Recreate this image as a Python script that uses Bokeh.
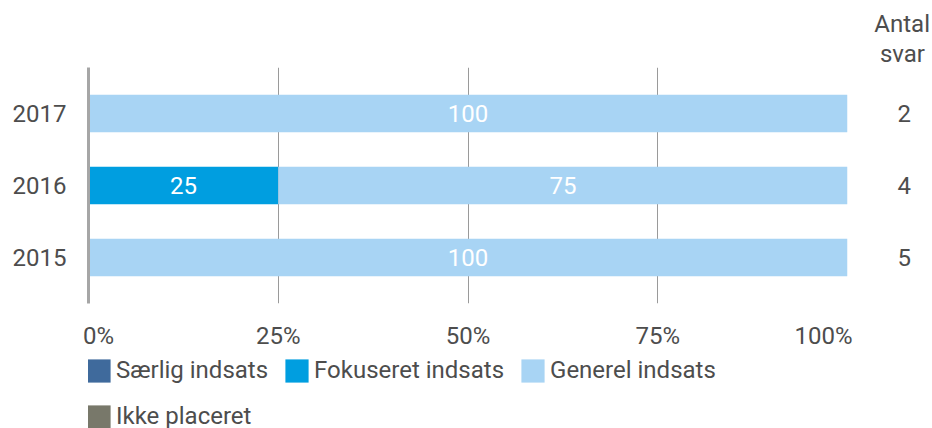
from bokeh.plotting import figure
from bokeh.layouts import column
from bokeh.models import (Range1d, FixedTicker, LinearAxis, Title, Legend,
                          LegendItem, ColumnDataSource)
from bokeh.embed import file_html
from bokeh.resources import INLINE
from bokeh.core.properties import value

# ---- data ----
years = ["2015", "2016", "2017"]
saerlig = [0, 0, 0]
fokuseret = [0, 25, 0]
generel = [100, 75, 100]
ikke_placeret = [0, 0, 0]
antal_svar = [5, 4, 2]
series_names = ["Særlig indsats", "Fokuseret indsats", "Generel indsats", "Ikke placeret"]
x_ticks = [0, 25, 50, 75, 100]
x_tick_labels = ["0%", "25%", "50%", "75%", "100%"]
right_title = ["Antal", "svar"]

# ---- style ----
colors = ["#3F6A9C", "#009EE0", "#A8D4F4", "#78786A"]
FONT = "Roboto"
TXT = "#4D4D4D"
FS = "24px"
# edge tick labels are nudged inward (px), like the original renderer does
label_nudge_px = [10, 0, 0, 0, -24]

series = [saerlig, fokuseret, generel, ikke_placeret]
pos = list(range(len(years)))
keys = ["s0", "s1", "s2", "s3"]
src = ColumnDataSource(dict(pos=pos, **{k: v for k, v in zip(keys, series)}))

W = 932
LEFT, RIGHT = 88, 85
pad = 0.64
p = figure(width=W, height=352, x_range=Range1d(0, 100),
           y_range=Range1d(-pad, len(years) - 1 + pad),
           output_backend="svg", toolbar_location=None, title=None,
           min_border_left=LEFT, min_border_right=RIGHT,
           min_border_top=67, min_border_bottom=47)
p.outline_line_color = None

renderers = p.hbar_stack(keys, y="pos", height=0.52, fill_color=colors,
                         line_color=None, source=src)

# value labels inside bars
lx, ly, lt = [], [], []
for i in range(len(years)):
    cum = 0
    for vals in series:
        v = vals[i]
        if v > 0:
            lx.append(cum + v / 2)
            ly.append(pos[i])
            lt.append(str(v))
        cum += v
p.text(x=lx, y=ly, text=lt, text_color="white", text_font=value(FONT),
       text_font_size=FS, text_align="center", text_baseline="middle")

# grid
p.ygrid.visible = False
p.xgrid.ticker = FixedTicker(ticks=x_ticks)
p.xgrid.grid_line_color = "#9A9A9A"
p.xgrid.grid_line_width = 1

# x axis (labels placed at ticks, edge labels nudged inward)
px_per_unit = (W - LEFT - RIGHT) / 100.0
label_pos = [round(t + n / px_per_unit, 3) for t, n in zip(x_ticks, label_nudge_px)]
p.xaxis.ticker = FixedTicker(ticks=label_pos)
p.xaxis.major_label_overrides = {lp: l for lp, l in zip(label_pos, x_tick_labels)}
p.xaxis.axis_line_color = None
p.xaxis.major_tick_line_color = None
p.xaxis.minor_tick_line_color = None
p.xaxis.major_label_standoff = 12
p.xaxis.major_label_text_font = FONT
p.xaxis.major_label_text_font_size = FS
p.xaxis.major_label_text_color = TXT

# left y axis
p.yaxis.ticker = FixedTicker(ticks=pos)
p.yaxis.major_label_overrides = {i: y for i, y in zip(pos, years)}
p.yaxis.axis_line_color = "#A6A6A6"
p.yaxis.axis_line_width = 3
p.yaxis.major_tick_line_color = None
p.yaxis.minor_tick_line_color = None
p.yaxis.major_label_standoff = 16
p.yaxis.major_label_text_font = FONT
p.yaxis.major_label_text_font_size = FS
p.yaxis.major_label_text_color = TXT

# right axis: Antal svar
rax = LinearAxis(ticker=FixedTicker(ticks=pos),
                 major_label_overrides={i: str(n) for i, n in zip(pos, antal_svar)})
rax.axis_line_color = None
rax.major_tick_line_color = None
rax.minor_tick_line_color = None
rax.major_label_standoff = 44
rax.major_label_text_font = FONT
rax.major_label_text_font_size = FS
rax.major_label_text_color = TXT
p.add_layout(rax, "right")

# header over the right column (closest to frame added first)
for txt, off in zip(reversed(right_title), [-77.5, -82.5]):
    p.add_layout(Title(text=txt, align="right", offset=off, standoff=0,
                       text_font=FONT, text_font_size=FS, text_color=TXT,
                       text_font_style="normal"), "above")

# ---- legend figure ----
pl = figure(width=W, height=428 - 352, x_range=Range1d(0, 1), y_range=Range1d(0, 1),
            output_backend="svg", toolbar_location=None, title=None,
            x_axis_type=None, y_axis_type=None,
            min_border_left=0, min_border_right=0, min_border_top=0, min_border_bottom=0)
pl.outline_line_color = None
pl.xgrid.visible = False
pl.ygrid.visible = False
# zero-width swatch renderers (one per series) used only for the legend
leg_rs = [pl.hbar(y=pos, left=[0] * len(pos), right=[0] * len(pos), height=0.5,
                  fill_color=c, line_color=None)
          for c in colors]
items = [LegendItem(label=n, renderers=[r]) for n, r in zip(series_names, leg_rs)]
legend = Legend(items=items, orientation="horizontal", ncols=3,
                location=(-4, -4), glyph_width=29, glyph_height=29,
                label_standoff=3, spacing=14, label_height=32,
                padding=0, margin=0, border_line_color=None,
                background_fill_alpha=0, label_text_font=FONT,
                label_text_font_size=FS, label_text_color=TXT)
pl.add_layout(legend, "center")

layout = column(p, pl, spacing=0)
open("out.html", "w").write(file_html(layout, INLINE))
